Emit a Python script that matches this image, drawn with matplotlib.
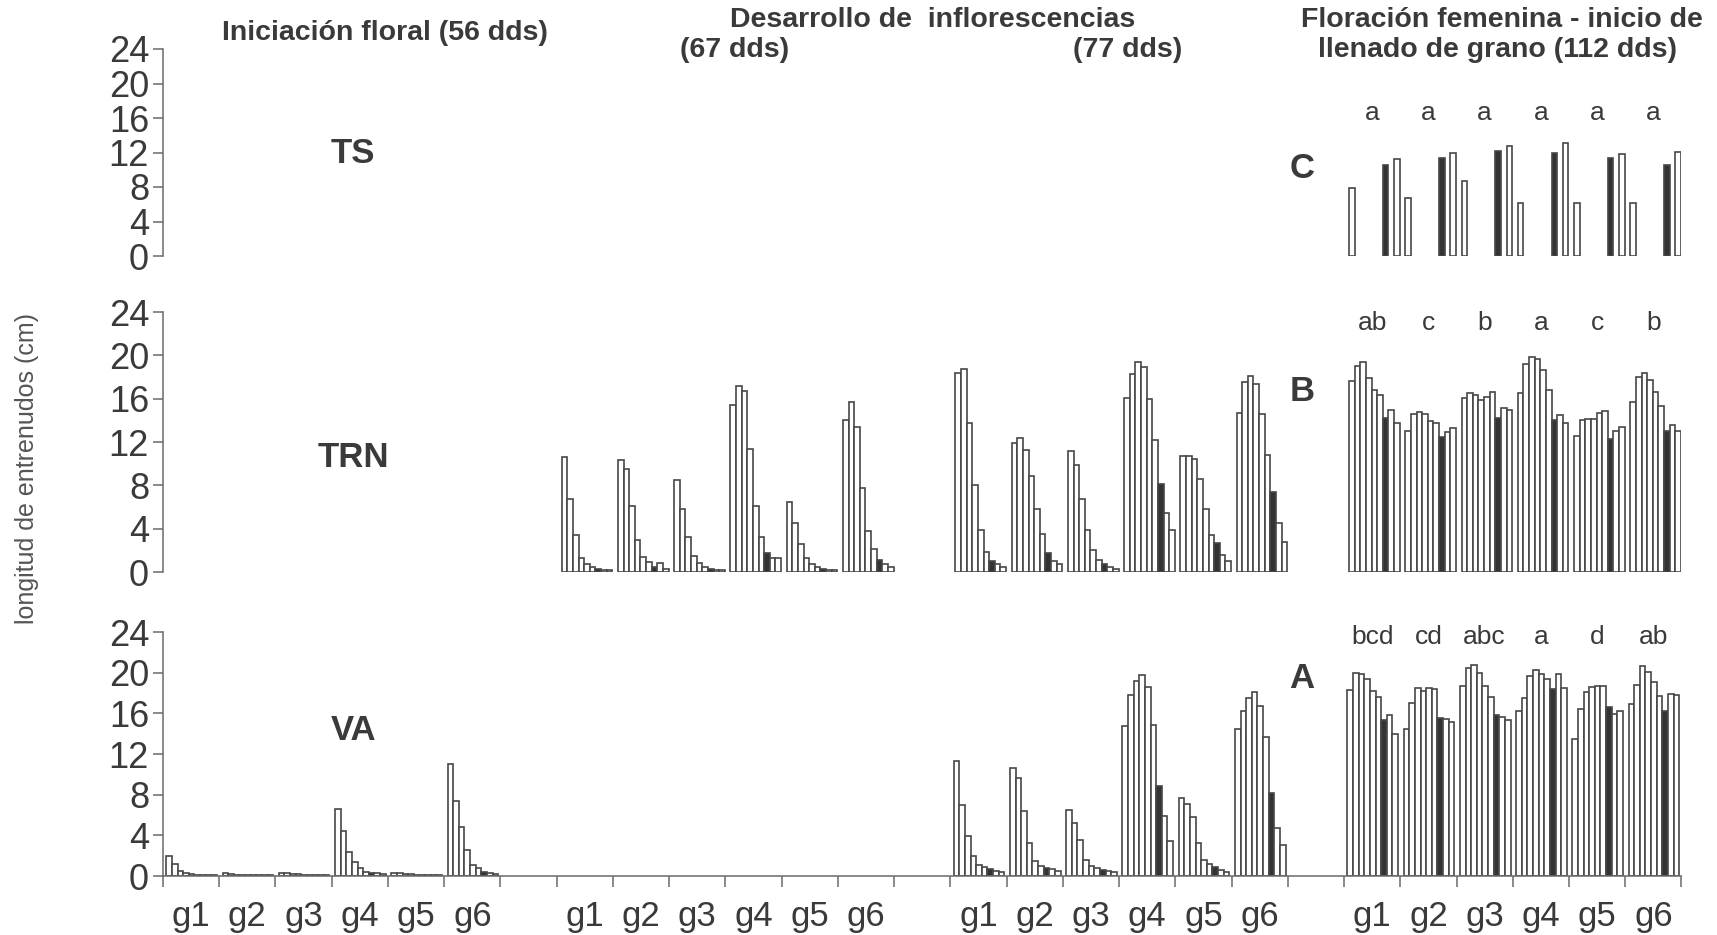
import numpy as np
import matplotlib
matplotlib.use("Agg")
import matplotlib.pyplot as plt

plt.rcParams["font.family"] = ["Liberation Sans", "DejaVu Sans"]

# ----------------------------
# Data (cm), 9 internodes per genotype, black bar = internode 7
# ----------------------------
genotypes = ["g1", "g2", "g3", "g4", "g5", "g6"]
BLACK_IDX = 6

va_56 = [
    [1.95, 1.2, 0.5, 0.25, 0.15, 0.1, 0.1, 0.1, 0.1],
    [0.3, 0.2, 0.1, 0.1, 0.1, 0.1, 0.1, 0.1, 0.1],
    [0.3, 0.25, 0.2, 0.15, 0.1, 0.1, 0.1, 0.1, 0.1],
    [6.6, 4.4, 2.4, 1.4, 0.75, 0.4, 0.3, 0.25, 0.2],
    [0.3, 0.25, 0.2, 0.15, 0.1, 0.1, 0.1, 0.1, 0.1],
    [11.0, 7.35, 4.8, 2.6, 1.1, 0.75, 0.4, 0.3, 0.2],
]
va_77 = [
    [11.3, 7.0, 3.9, 2.0, 1.05, 0.85, 0.65, 0.5, 0.4],
    [10.6, 9.6, 6.4, 3.2, 1.5, 1.0, 0.75, 0.65, 0.5],
    [6.5, 5.2, 3.5, 1.6, 1.0, 0.75, 0.6, 0.5, 0.4],
    [14.8, 17.8, 19.2, 19.8, 18.6, 14.9, 8.9, 5.9, 3.4],
    [7.7, 7.1, 5.8, 3.2, 1.6, 1.2, 0.85, 0.6, 0.4],
    [14.5, 16.2, 17.5, 18.1, 16.7, 13.7, 8.2, 4.75, 3.05],
]
va_112 = [
    [18.3, 20.0, 19.9, 19.4, 18.2, 17.6, 15.3, 15.8, 14.0],
    [14.5, 17.0, 18.5, 18.2, 18.5, 18.4, 15.5, 15.4, 15.1],
    [18.7, 20.5, 20.8, 20.0, 18.7, 17.6, 15.8, 15.6, 15.3],
    [16.2, 17.5, 19.7, 20.3, 19.9, 19.4, 18.4, 19.9, 18.5],
    [13.5, 16.4, 18.1, 18.6, 18.7, 18.7, 16.6, 15.9, 16.2],
    [16.9, 18.8, 20.7, 20.1, 19.1, 17.7, 16.2, 17.9, 17.8],
]

trn_67 = [
    [10.6, 6.7, 3.4, 1.3, 0.7, 0.45, 0.3, 0.15, 0.15],
    [10.3, 9.5, 6.1, 3.0, 1.4, 0.9, 0.5, 0.8, 0.3],
    [8.5, 5.8, 3.2, 1.5, 0.8, 0.5, 0.3, 0.2, 0.2],
    [15.4, 17.2, 16.7, 11.4, 6.1, 3.2, 1.8, 1.3, 1.3],
    [6.5, 4.5, 2.6, 1.3, 0.7, 0.5, 0.3, 0.2, 0.2],
    [14.0, 15.7, 13.4, 7.8, 3.8, 2.1, 1.1, 0.7, 0.5],
]
trn_77 = [
    [18.4, 18.7, 13.75, 8.0, 3.85, 1.85, 1.05, 0.7, 0.45],
    [11.9, 12.4, 11.3, 8.9, 5.85, 3.5, 1.8, 1.05, 0.7],
    [11.2, 9.9, 6.7, 3.9, 2.0, 1.1, 0.77, 0.5, 0.3],
    [16.1, 18.3, 19.4, 18.9, 16.0, 12.2, 8.15, 5.45, 3.9],
    [10.7, 10.7, 10.4, 8.6, 5.85, 3.4, 2.7, 1.6, 1.0],
    [14.7, 17.5, 18.1, 17.4, 14.6, 10.8, 7.35, 4.5, 2.8],
]
trn_112 = [
    [17.6, 19.0, 19.4, 17.9, 16.8, 16.3, 14.2, 15.0, 13.8],
    [13.0, 14.6, 14.8, 14.6, 13.9, 13.8, 12.5, 12.9, 13.3],
    [16.1, 16.5, 16.3, 15.9, 16.2, 16.6, 14.2, 15.1, 15.0],
    [16.55, 19.2, 19.8, 19.7, 18.6, 16.8, 14.0, 14.5, 13.8],
    [12.6, 14.0, 14.1, 14.1, 14.7, 14.9, 12.3, 13.0, 13.4],
    [15.7, 18.0, 18.4, 17.7, 16.6, 15.3, 13.0, 13.6, 13.0],
]

nan = np.nan
ts_112 = [
    [7.9, nan, nan, nan, nan, nan, 10.5, nan, 11.3],
    [6.7, nan, nan, nan, nan, nan, 11.4, nan, 12.0],
    [8.7, nan, nan, nan, nan, nan, 12.2, nan, 12.7],
    [6.1, nan, nan, nan, nan, nan, 12.0, nan, 13.1],
    [6.1, nan, nan, nan, nan, nan, 11.35, nan, 11.8],
    [6.1, nan, nan, nan, nan, nan, 10.6, nan, 12.1],
]

letters_ts = ["a", "a", "a", "a", "a", "a"]
letters_trn = ["ab", "c", "b", "a", "c", "b"]
letters_va = ["bcd", "cd", "abc", "a", "d", "ab"]

# period index -> data (None = no bars)
ROWS = {
    "TS":  [None, None, None, ts_112],
    "TRN": [None, trn_67, trn_77, trn_112],
    "VA":  [va_56, None, va_77, va_112],
}

# ----------------------------
# Layout
# ----------------------------
W, H = 1717, 935
X0, SLOT = 163, 56.24
N_SLOTS = 27
EDGE = "#474747"
TXT = "#3a3a3a"

fig = plt.figure(figsize=(W / 100, H / 100), dpi=100)


def add_row(y0_px, y24_px):
    return fig.add_axes([X0 / W, 1 - y0_px / H, N_SLOTS * SLOT / W, (y0_px - y24_px) / H])


axes = {
    "TS": add_row(256, 49),
    "TRN": add_row(572, 312),
    "VA": add_row(876, 632),
}

BAR_W = 0.1
START = {"TS": 0.09, "TRN": 0.09, "VA": 0.06}

for name, ax in axes.items():
    for p, data in enumerate(ROWS[name]):
        if data is None:
            continue
        for g, vals in enumerate(data):
            slot = p * 7 + g
            vals = np.asarray(vals, dtype=float)
            xs = slot + START[name] + BAR_W * (np.arange(len(vals)) + 0.5)
            ok = ~np.isnan(vals)
            colors = ["#333333" if i == BLACK_IDX else "white" for i in range(len(vals))]
            ax.bar(xs[ok], vals[ok], width=BAR_W, color=np.array(colors)[ok],
                   edgecolor=EDGE, linewidth=1.2)

    ax.set_xlim(0, N_SLOTS)
    ax.set_ylim(0, 24)
    ax.set_yticks(np.arange(0, 25, 4))
    ax.tick_params(axis="y", labelsize=26, colors="#6a6a6a", labelcolor=TXT,
                   length=7, width=1.1, pad=3)
    for s in ["top", "right"]:
        ax.spines[s].set_visible(False)
    ax.spines["left"].set_color("#6a6a6a")
    ax.spines["left"].set_linewidth(1.1)
    ax.patch.set_alpha(0)

    if name != "VA":
        ax.spines["bottom"].set_visible(False)
        ax.set_xticks([])
    else:
        ax.spines["bottom"].set_color("#6a6a6a")
        ax.spines["bottom"].set_linewidth(1.1)
        ax.set_xticks(np.arange(0, N_SLOTS + 1))
        ax.set_xticklabels([])
        centers = [p * 7 + g + 0.5 for p in range(4) for g in range(6)]
        ax.set_xticks(centers, minor=True)
        ax.set_xticklabels(genotypes * 4, minor=True)
        ax.tick_params(axis="x", which="major", length=8, width=1.1, colors="#6a6a6a")
        ax.tick_params(axis="x", which="minor", length=0, labelsize=25,
                       labelcolor=TXT, pad=17)

# significance letters above the 112 dds groups
for name, letters, ly in [("TS", letters_ts, 16.6), ("TRN", letters_trn, 23.0),
                          ("VA", letters_va, 23.5)]:
    for g, lab in enumerate(letters):
        axes[name].text(21 + g + 0.5, ly, lab, ha="center", va="center",
                        fontsize=19, color=TXT, clip_on=False)

# treatment labels and panel letters
for name, ly, panel, py in [("TS", 11.9, "C", 10.2), ("TRN", 10.6, "B", 16.7),
                            ("VA", 14.3, "A", 19.4)]:
    axes[name].text(3.38, ly, name, ha="center", va="center", fontsize=25,
                    fontweight="bold", color=TXT)
    axes[name].text(20.25, py, panel, ha="center", va="center", fontsize=25,
                    fontweight="bold", color=TXT)

# stage titles
def ftext(x, y, s, **kw):
    fig.text(x / W, 1 - y / H, s, ha="center", va="center", fontsize=20.5,
             fontweight="bold", color=TXT, **kw)


ftext(385, 33, "Iniciación floral (56 dds)")
ftext(933, 20, "Desarrollo de  inflorescencias")
ftext(735, 50, "(67 dds)")
ftext(1128, 50, "(77 dds)")
ftext(1502, 20, "Floración femenina - inicio de")
ftext(1497, 50, "llenado de grano (112 dds)")

fig.text(27 / W, 1 - 468 / H, "longitud de entrenudos (cm)", rotation=90,
         ha="center", va="center", fontsize=18, color="#555555")

fig.savefig("out.png", dpi=100)
